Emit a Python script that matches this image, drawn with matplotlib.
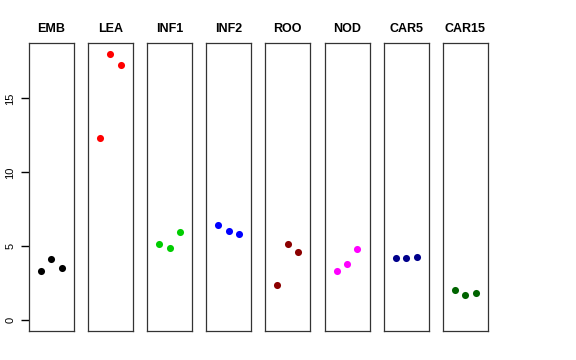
import matplotlib
matplotlib.use("Agg")
import matplotlib.pyplot as plt

plt.rcParams['font.family'] = ['Liberation Sans', 'DejaVu Sans']

tissues = ["EMB", "LEA", "INF1", "INF2", "ROO", "NOD", "CAR5", "CAR15"]
colors = ["#000000", "#FF0000", "#00CD00", "#0000FF", "#8B0000", "#FF00FF", "#00008B", "#006400"]
reps = [1, 2, 3]
emb = [3.35, 4.14, 3.53]
lea = [12.32, 18.02, 17.25]
inf1 = [5.18, 4.86, 5.95]
inf2 = [6.44, 6.01, 5.81]
roo = [2.36, 5.13, 4.64]
nod = [3.33, 3.83, 4.80]
car5 = [4.23, 4.23, 4.25]
car15 = [2.03, 1.69, 1.84]
values = [emb, lea, inf1, inf2, roo, nod, car5, car15]
yticks = [0, 5, 10, 15]

fig, axes = plt.subplots(1, 8, figsize=(5.76, 3.6), dpi=100)
fig.subplots_adjust(left=0.0498, right=0.847, top=0.8806, bottom=0.0806, wspace=0.316)

for i, ax in enumerate(axes):
    ax.scatter(reps, values[i], s=26, color=colors[i], zorder=3, linewidths=0)
    ax.set_xlim(-0.16, 4.16)
    ax.set_ylim(-0.72, 18.74)
    ax.set_xticks([])
    ax.set_title(tissues[i], fontsize=9, fontweight='bold', pad=8)
    for sp in ax.spines.values():
        sp.set_linewidth(0.9)
        sp.set_color('#333333')
    if i == 0:
        ax.set_yticks(yticks)
        ax.set_yticklabels([str(t) for t in yticks], rotation=90, va='center', fontsize=8)
        ax.tick_params(axis='y', which='major', length=5.5, width=1.0, color='black',
                       direction='out', pad=4, left=True)
    else:
        ax.set_yticks([])

fig.savefig("out.png", dpi=100, facecolor='white')
